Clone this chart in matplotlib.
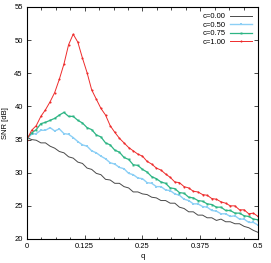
"""SNR vs q for several c values (gnuplot-like look)."""

import numpy as np
import matplotlib

matplotlib.use("Agg")
import matplotlib.pyplot as plt
from matplotlib.ticker import MultipleLocator

q = np.round(np.arange(0, 0.5001, 0.01), 2)

snr_c000 = [35.3, 35.0, 34.9, 34.5, 34.5, 34.0, 33.7, 33.2, 33.0, 32.4,
            32.2, 31.6, 31.4, 30.7, 30.5, 29.9, 29.7, 29.0, 28.9, 28.4,
            28.4, 27.9, 27.7, 27.1, 27.1, 26.8, 26.7, 26.3, 26.2, 25.8,
            25.8, 25.4, 25.4, 24.8, 24.6, 24.1, 24.1, 23.6, 23.6, 23.2,
            23.2, 22.8, 23.0, 22.6, 22.6, 22.3, 22.3, 21.9, 21.7, 21.3,
            21.0]
snr_c050 = [35.1, 35.8, 35.9, 36.4, 36.4, 36.8, 36.3, 36.6, 35.9, 35.8,
            35.3, 34.7, 34.2, 34.0, 33.3, 33.0, 32.5, 32.1, 31.5, 31.3,
            30.8, 30.6, 29.9, 29.7, 29.2, 29.1, 28.5, 28.4, 27.9, 27.9,
            27.4, 27.3, 26.8, 26.6, 26.0, 25.8, 25.3, 25.3, 24.9, 24.8,
            24.3, 24.2, 23.8, 23.8, 23.4, 23.5, 23.0, 23.0, 22.5, 22.5,
            22.1]
snr_c075 = [35.2, 36.0, 36.5, 37.4, 37.6, 37.9, 38.2, 38.7, 39.1, 38.5,
            38.5, 37.9, 37.5, 36.8, 36.5, 35.7, 35.4, 34.5, 34.2, 33.4,
            33.1, 32.3, 32.0, 31.2, 31.1, 30.5, 30.1, 29.4, 29.1, 28.6,
            28.4, 27.7, 27.6, 27.0, 26.9, 26.3, 26.2, 25.8, 25.7, 25.3,
            25.2, 24.8, 24.8, 24.3, 24.3, 23.9, 23.9, 23.5, 23.4, 23.0,
            22.9]
snr_c100 = [35.0, 36.4, 37.1, 38.5, 39.5, 40.7, 42.1, 44.1, 46.4, 49.3,
            50.9, 49.7, 47.3, 45.1, 42.5, 41.1, 39.7, 38.7, 37.1, 36.1,
            35.2, 34.5, 33.8, 33.3, 32.8, 32.5, 31.7, 31.3, 30.7, 30.4,
            29.8, 29.3, 28.6, 28.5, 27.9, 27.7, 27.2, 27.1, 26.7, 26.6,
            26.1, 26.0, 25.6, 25.4, 25.0, 25.0, 24.4, 24.4, 23.8, 23.9,
            23.4]

labels = ["c=0.00", "c=0.50", "c=0.75", "c=1.00"]
series = [snr_c000, snr_c050, snr_c075, snr_c100]
colors = ["#4a4a4a", "#8ccff5", "#2db584", "#ee2b2b"]
markers = [None, "s", "s", "o"]
msizes = [0, 1.7, 1.4, 1.5]
widths = [0.7, 1.0, 0.9, 0.7]

xticks = [0, 0.125, 0.25, 0.375, 0.5]
xticklabels = ["0", "0.125", "0.25", "0.375", "0.5"]

plt.rcParams["font.family"] = "Liberation Sans"
fig = plt.figure(figsize=(2.71, 2.63), dpi=100)
ax = fig.add_axes([0.0996, 0.0913, 0.8524, 0.8821])

for y, lab, col, mk, ms, lw in zip(series, labels, colors, markers, msizes, widths):
    ax.plot(q, y, color=col, lw=lw, marker=mk, markersize=ms,
            markeredgewidth=0, label=lab)

ax.set_xlim(0, 0.5)
ax.set_ylim(20, 55)
ax.set_xticks(xticks)
ax.set_xticklabels(xticklabels)
ax.xaxis.set_minor_locator(MultipleLocator(0.03125))
ax.yaxis.set_major_locator(MultipleLocator(5))
ax.tick_params(which="both", direction="in", top=True, right=True,
               labelsize=5.5, width=0.5, pad=3)
ax.tick_params(which="major", length=3)
ax.tick_params(which="minor", length=1.8)
for s in ax.spines.values():
    s.set_linewidth(0.8)

ax.set_xlabel("q", fontsize=5.5, labelpad=2)
ax.set_ylabel("SNR [dB]", fontsize=5.5, labelpad=4)

ax.legend(loc="upper right", fontsize=5.5, frameon=False, markerfirst=False,
          handlelength=2.8, handletextpad=0.6, labelspacing=0.15,
          borderpad=0.2, borderaxespad=0.6)

fig.savefig("out.png", dpi=100)
